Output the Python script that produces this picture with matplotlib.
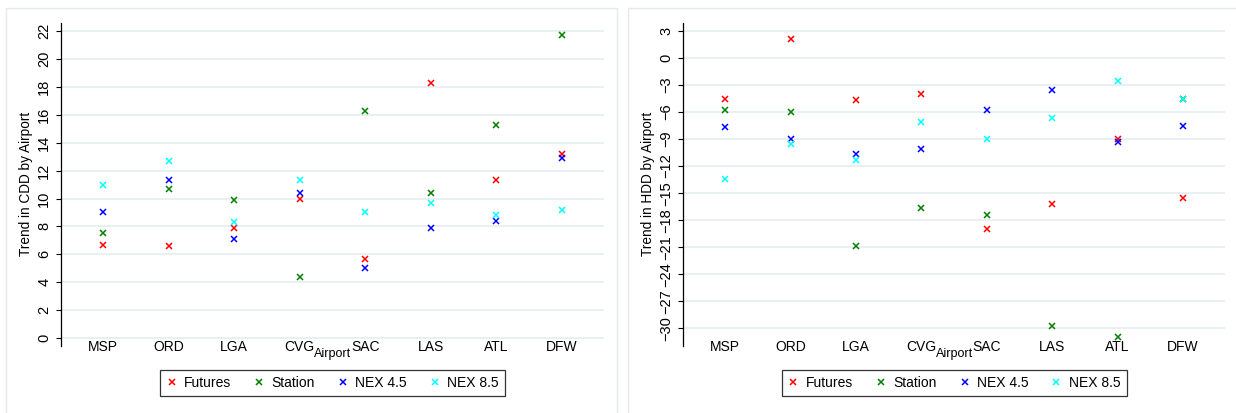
"""Trend in CDD / HDD by airport, two panel scatter of source estimates."""

import matplotlib
matplotlib.use('Agg')
import matplotlib.pyplot as plt
from matplotlib.patches import Rectangle

plt.rcParams['font.family'] = ['Liberation Sans', 'DejaVu Sans']

airports = ['MSP', 'ORD', 'LGA', 'CVG', 'SAC', 'LAS', 'ATL', 'DFW']
series_names = ['Futures', 'Station', 'NEX 4.5', 'NEX 8.5']
series_colors = ['red', 'green', 'blue', 'cyan']

# CDD trend by airport
cdd_futures = [6.7, 6.6, 7.9, 10.0, 5.7, 18.3, 11.3, 13.2]
cdd_station = [7.5, 10.7, 9.9, 4.4, 16.3, 10.4, 15.3, 21.7]
cdd_nex45 = [9.0, 11.3, 7.1, 10.4, 5.0, 7.9, 8.4, 12.9]
cdd_nex85 = [11.0, 12.7, 8.3, 11.3, 9.0, 9.7, 8.8, 9.2]

# HDD trend by airport
hdd_futures = [-4.6, 2.1, -4.7, -4.0, -19.0, -16.2, -9.0, -15.5]
hdd_station = [-5.8, -6.0, -20.9, -16.6, -17.4, -29.7, -31.0, -4.5]
hdd_nex45 = [-7.7, -9.0, -10.7, -10.1, -5.8, -3.6, -9.3, -7.5]
hdd_nex85 = [-13.4, -9.5, -11.3, -7.1, -9.0, -6.7, -2.6, -4.5]

cdd_ticks = list(range(0, 23, 2))
hdd_ticks = list(range(-30, 4, 3))

grid_color = '#e4edf0'


def draw_panel(ax, series, ticks, ylim, ylabel):
    x = list(range(1, len(airports) + 1))
    for name, color, values in zip(series_names, series_colors, series):
        ax.plot(x, values, linestyle='none', marker='x', markersize=4.5,
                markeredgewidth=1.1, color=color, label=name, zorder=3)

    ax.set_xlim(0.36, 8.64)
    ax.set_ylim(*ylim)
    ax.set_xticks(x)
    ax.set_xticklabels(airports, fontsize=10)
    ax.set_yticks(ticks)
    ax.set_yticklabels([str(t).replace('-', '\u2212') for t in ticks],
                       fontsize=10.5, rotation=90, va='center')
    ax.tick_params(axis='x', length=0, pad=-4.3)
    ax.tick_params(axis='y', length=3.5, width=0.8, pad=3.5)

    for t in ticks:
        ax.axhline(t, color=grid_color, linewidth=1.2, zorder=1)

    for side in ['top', 'right', 'bottom']:
        ax.spines[side].set_visible(False)
    ax.spines['left'].set_linewidth(0.9)

    ax.set_ylabel(ylabel, fontsize=9.8)
    ax.yaxis.set_label_coords(-0.052, 0.5)
    ax.set_xlabel('Airport', fontsize=9)
    ax.xaxis.set_label_coords(0.5, -0.006)

    leg = ax.legend(loc='center', bbox_to_anchor=(0.5, -0.114), ncol=4,
                    fontsize=10, frameon=True, fancybox=False,
                    handlelength=0.8, handletextpad=0.5, columnspacing=1.6,
                    borderpad=0.45)
    leg.get_frame().set_edgecolor('black')
    leg.get_frame().set_linewidth(0.9)


fig = plt.figure(figsize=(12.36, 4.13), dpi=100)

# light outer frames of the two graph regions
for x0, x1 in [(6, 617), (628, 1250)]:
    fig.patches.append(Rectangle((x0 / 1236, -0.05), (x1 - x0) / 1236,
                                 1.05 - 8 / 413, transform=fig.transFigure,
                                 fill=False, edgecolor='#e4eaec',
                                 linewidth=1.0))

ax1 = fig.add_axes([61 / 1236, 1 - 346 / 413, 543 / 1236, 323.3 / 413])
draw_panel(ax1, [cdd_futures, cdd_station, cdd_nex45, cdd_nex85],
           cdd_ticks, (-0.57, 22.6), 'Trend in CDD by Airport')

ax2 = fig.add_axes([683.3 / 1236, 1 - 346 / 413, 541.7 / 1236, 323.3 / 413])
draw_panel(ax2, [hdd_futures, hdd_station, hdd_nex45, hdd_nex85],
           hdd_ticks, (-31.97, 3.92), 'Trend in HDD by Airport')

fig.savefig('out.png', dpi=100)
